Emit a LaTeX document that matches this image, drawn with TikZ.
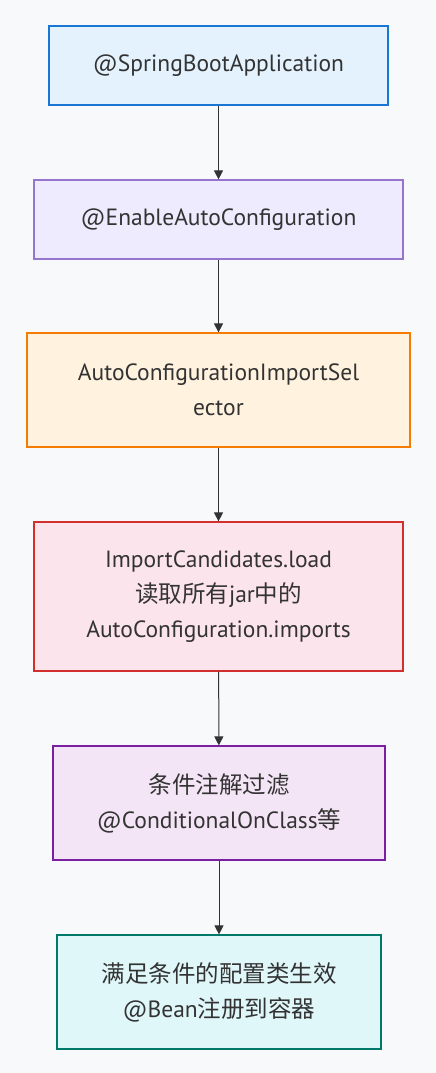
\documentclass[tikz,border=0pt]{standalone}
\usepackage{fontspec}
\setmainfont{PT Sans}
\newfontfamily\cjk{Noto Sans CJK SC}
\usetikzlibrary{arrows.meta}
\definecolor{bgc}{HTML}{F8F9FA}
\definecolor{txt}{HTML}{333333}
\definecolor{f1}{HTML}{E3F2FD}\definecolor{s1}{HTML}{1976D2}
\definecolor{f2}{HTML}{EDEBFD}\definecolor{s2}{HTML}{9575CD}
\definecolor{f3}{HTML}{FFF3E0}\definecolor{s3}{HTML}{F57C00}
\definecolor{f4}{HTML}{FCE4EC}\definecolor{s4}{HTML}{D32F2F}
\definecolor{f5}{HTML}{F3E5F5}\definecolor{s5}{HTML}{7B1FA2}
\definecolor{f6}{HTML}{E0F7FA}\definecolor{s6}{HTML}{00796B}
\tikzset{
  box/.style={draw, line width=1.2pt, inner sep=0pt, align=center, text=txt,
    font=\fontsize{23.5}{35}\selectfont},
  conn/.style={draw=txt, line width=1pt, -{Triangle[length=9pt,width=9pt]}},
}
\begin{document}
\begin{tikzpicture}[x=1pt,y=-1pt]
\useasboundingbox[fill=bgc] (0,0) rectangle (436,1073);
\node[box, fill=f1, draw=s1, minimum width=339pt, minimum height=79pt] (n1) at (218.5,65.5) {@SpringBootApplication};
\node[box, fill=f2, draw=s2, minimum width=369pt, minimum height=79pt] (n2) at (218.5,219.5) {@EnableAutoConfiguration};
\node[box, fill=f3, draw=s3, minimum width=383pt, minimum height=114pt] (n3) at (218.5,390) {AutoConfigurationImportSel\\ector};
\node[box, fill=f4, draw=s4, minimum width=369pt, minimum height=149pt] (n4) at (218.5,596.5) {ImportCandidates.load\\{\cjk 读取所有}jar{\cjk 中的}\\AutoConfiguration.imports};
\node[box, fill=f5, draw=s5, minimum width=332pt, minimum height=114pt] (n5) at (219,803) {{\cjk 条件注解过滤}\\@ConditionalOnClass{\cjk 等}};
\node[box, fill=f6, draw=s6, minimum width=324pt, minimum height=114pt] (n6) at (219,992) {{\cjk 满足条件的配置类生效}\\@Bean{\cjk 注册到容器}};
\draw[conn] (n1) -- (n2);
\draw[conn] (n2) -- (n3);
\draw[conn] (n3) -- (n4);
\draw[conn] (n4) -- (n5);
\draw[conn] (n5) -- (n6);
\end{tikzpicture}
\end{document}
